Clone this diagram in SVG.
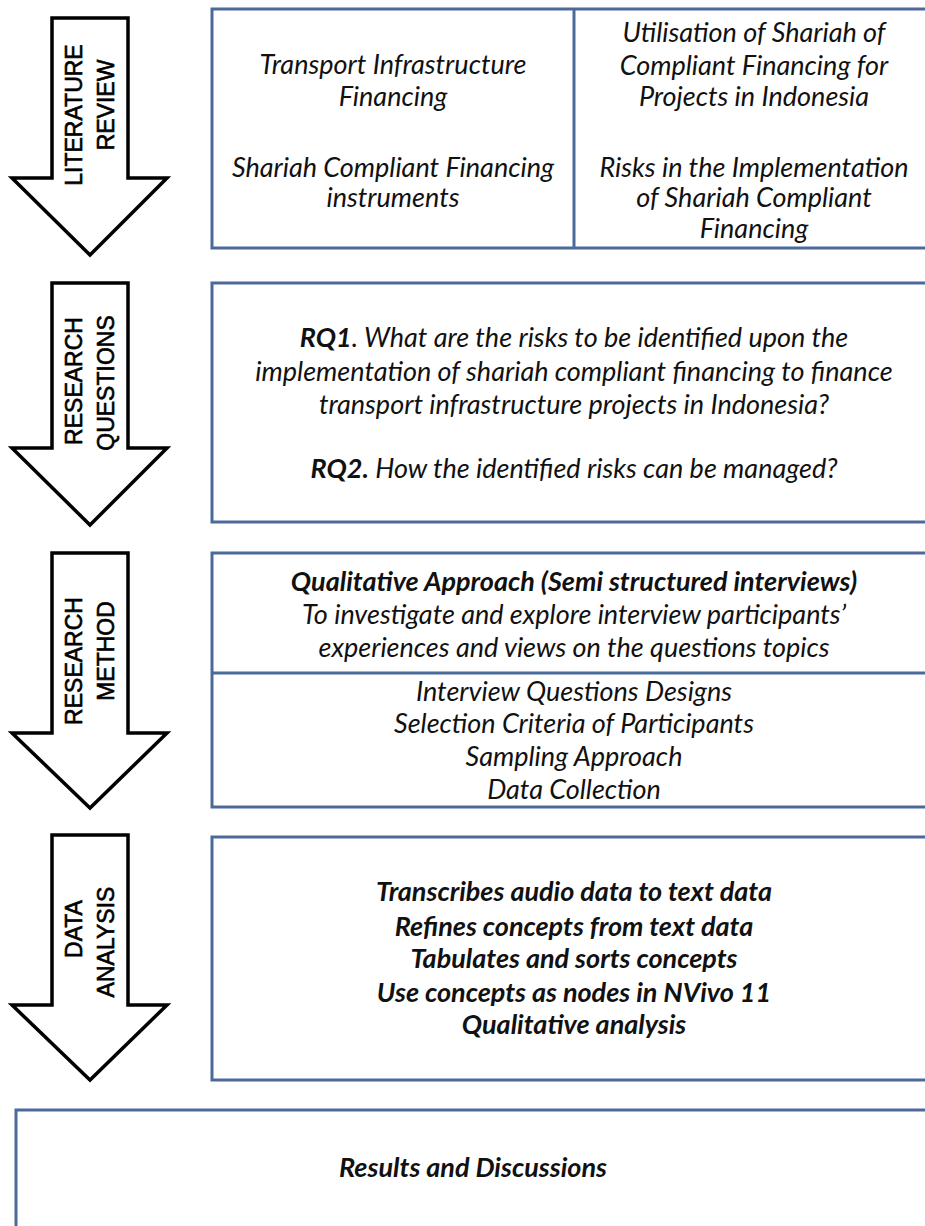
<svg xmlns="http://www.w3.org/2000/svg" width="925" height="1226" viewBox="0 0 925 1226">
<style>
.arrow{fill:#ffffff;stroke:#000000;stroke-width:3.5;stroke-linejoin:miter}
.box{fill:#ffffff;stroke:#4a6a99;stroke-width:3}
.div{stroke:#4a6a99;stroke-width:3;fill:none}
.lbl{font-family:"Liberation Sans",Arial,sans-serif;font-size:23px;fill:#000;stroke:#000;stroke-width:0.6;text-anchor:middle}
.t{font-family:Lato,"Open Sans",sans-serif;font-style:italic;font-size:27px;fill:#111;text-anchor:middle}
.b{font-weight:bold}
</style>
<rect width="925" height="1226" fill="#ffffff"/>
<g id="arrows">
<g id="arrow-literature-review">
<path class="arrow" d="M52,18 H128 V178 H167 L90,255 L12,178 H52 Z"/>
<text class="lbl" transform="translate(82,115) rotate(-90)">LITERATURE</text>
<text class="lbl" transform="translate(114,105) rotate(-90)">REVIEW</text>
</g>
<g id="arrow-research-questions">
<path class="arrow" d="M52,283 H128 V448 H167 L90,525 L12,448 H52 Z"/>
<text class="lbl" transform="translate(82,381) rotate(-90)">RESEARCH</text>
<text class="lbl" transform="translate(114,383) rotate(-90)">QUESTIONS</text>
</g>
<g id="arrow-research-method">
<path class="arrow" d="M52,553 H128 V733 H167 L90,808 L12,733 H52 Z"/>
<text class="lbl" transform="translate(82,661) rotate(-90)">RESEARCH</text>
<text class="lbl" transform="translate(114,651) rotate(-90)">METHOD</text>
</g>
<g id="arrow-data-analysis">
<path class="arrow" d="M52,835 H128 V1005 H167 L90,1080 L12,1005 H52 Z"/>
<text class="lbl" transform="translate(82,929) rotate(-90)">DATA</text>
<text class="lbl" transform="translate(114,942) rotate(-90)">ANALYSIS</text>
</g>
</g>
<g id="box-literature-review">
<rect class="box" x="212" y="9" width="740" height="239"/>
<line class="div" x1="574" y1="9" x2="574" y2="248"/>
<text class="t" x="393" y="74">Transport Infrastructure</text>
<text class="t" x="393" y="106">Financing</text>
<text class="t" x="393" y="177">Shariah Compliant Financing</text>
<text class="t" x="393" y="207">instruments</text>
<text class="t" x="754" y="42">Utilisation of Shariah of</text>
<text class="t" x="754" y="75">Compliant Financing for</text>
<text class="t" x="754" y="106">Projects in Indonesia</text>
<text class="t" x="754" y="177">Risks in the Implementation</text>
<text class="t" x="754" y="207">of Shariah Compliant</text>
<text class="t" x="754" y="238">Financing</text>
</g>
<g id="box-research-questions">
<rect class="box" x="212" y="283" width="740" height="239"/>
<text class="t" x="574" y="347"><tspan class="b">RQ1</tspan>. What are the risks to be identified upon the</text>
<text class="t" x="574" y="381">implementation of shariah compliant financing to finance</text>
<text class="t" x="574" y="414">transport infrastructure projects in Indonesia?</text>
<text class="t" x="574" y="478"><tspan class="b">RQ2.</tspan> How the identified risks can be managed?</text>
</g>
<g id="box-research-method">
<rect class="box" x="212" y="553" width="740" height="254"/>
<line class="div" x1="212" y1="673" x2="952" y2="673"/>
<text class="t b" x="574" y="591">Qualitative Approach (Semi structured interviews)</text>
<text class="t" x="574" y="624">To investigate and explore interview participants’</text>
<text class="t" x="574" y="657">experiences and views on the questions topics</text>
<text class="t" x="574" y="701">Interview Questions Designs</text>
<text class="t" x="574" y="733">Selection Criteria of Participants</text>
<text class="t" x="574" y="766">Sampling Approach</text>
<text class="t" x="574" y="799">Data Collection</text>
</g>
<g id="box-data-analysis">
<rect class="box" x="212" y="837" width="740" height="243"/>
<text class="t b" x="574" y="901">Transcribes audio data to text data</text>
<text class="t b" x="574" y="936">Refines concepts from text data</text>
<text class="t b" x="574" y="968">Tabulates and sorts concepts</text>
<text class="t b" x="574" y="1002">Use concepts as nodes in NVivo 11</text>
<text class="t b" x="574" y="1034">Qualitative analysis</text>
</g>
<g id="box-results">
<rect class="box" x="16" y="1110" width="940" height="200"/>
<text class="t b" x="473" y="1177">Results and Discussions</text>
</g>
</svg>
